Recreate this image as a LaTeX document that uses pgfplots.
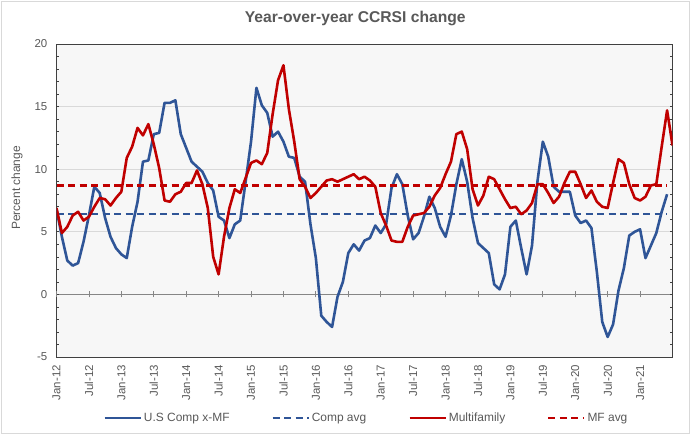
\documentclass[border=0pt]{standalone}
\usepackage{fontspec}
\setmainfont{Liberation Sans}
\usepackage{pgfplots}
\usepackage{pgfplotstable}
\pgfplotsset{compat=1.18}
\definecolor{cblue}{HTML}{2F5597}
\definecolor{cred}{HTML}{C00000}
\definecolor{plotbg}{HTML}{F7F7F7}
\definecolor{gridc}{HTML}{D9D9D9}
\definecolor{framec}{HTML}{D9D9D9}
\definecolor{textgray}{HTML}{595959}
\definecolor{zerogray}{HTML}{868686}
\definecolor{boxc}{HTML}{404040}

\pgfplotstableread{
m v
0 6.8
1 4.6
2 2.7
3 2.3
4 2.5
5 4.2
6 6.3
7 8.6
8 8.1
9 6.1
10 4.6
11 3.7
12 3.2
13 2.9
14 5.4
15 7.4
16 10.6
17 10.7
18 12.8
19 12.9
20 15.3
21 15.3
22 15.5
23 12.8
24 11.7
25 10.6
26 10.2
27 9.8
28 8.9
29 8.3
30 6.2
31 5.9
32 4.5
33 5.6
34 5.9
35 9.0
36 12.2
37 16.5
38 15.1
39 14.5
40 12.6
41 13.0
42 12.2
43 11.0
44 10.9
45 9.4
46 9.0
47 5.6
48 2.9
49 -1.7
50 -2.2
51 -2.6
52 -0.2
53 1.0
54 3.3
55 4.0
56 3.5
57 4.3
58 4.5
59 5.5
60 4.9
61 5.6
62 8.5
63 9.6
64 8.8
65 6.3
66 4.4
67 4.9
68 6.2
69 7.8
70 6.9
71 5.4
72 4.6
73 6.3
74 8.8
75 10.8
76 9.0
77 6.1
78 4.1
79 3.7
80 3.3
81 0.8
82 0.4
83 1.6
84 5.4
85 5.9
86 3.7
87 1.6
88 3.9
89 9.0
90 12.2
91 11.0
92 8.6
93 8.2
94 8.2
95 8.2
96 6.3
97 5.7
98 5.9
99 5.3
100 1.8
101 -2.2
102 -3.4
103 -2.4
104 0.3
105 2.1
106 4.7
107 5.0
108 5.2
109 2.9
110 3.9
111 4.9
112 6.6
113 8.0
}\comptbl

\pgfplotstableread{
m v
0 6.9
1 4.9
2 5.4
3 6.3
4 6.6
5 5.9
6 6.2
7 7.0
8 7.7
9 7.6
10 7.1
11 7.7
12 8.2
13 10.9
14 11.8
15 13.3
16 12.7
17 13.6
18 12.0
19 10.1
20 7.5
21 7.4
22 8.0
23 8.2
24 8.9
25 8.9
26 9.9
27 8.8
28 6.9
29 3.0
30 1.6
31 4.6
32 6.9
33 8.4
34 8.1
35 9.3
36 10.5
37 10.7
38 10.4
39 11.3
40 14.4
41 17.1
42 18.3
43 14.8
44 12.2
45 9.2
46 8.6
47 7.7
48 8.1
49 8.6
50 9.1
51 9.2
52 9.0
53 9.2
54 9.4
55 9.6
56 9.2
57 9.4
58 9.1
59 8.6
60 6.5
61 5.5
62 4.3
63 4.2
64 4.2
65 5.4
66 6.3
67 6.4
68 6.5
69 7.0
70 7.9
71 8.5
72 9.6
73 10.6
74 12.8
75 13.0
76 11.6
77 8.4
78 7.1
79 7.9
80 9.4
81 9.2
82 8.4
83 7.6
84 6.9
85 7.0
86 6.4
87 6.7
88 7.3
89 8.8
90 8.8
91 8.1
92 7.3
93 7.8
94 8.9
95 9.8
96 9.8
97 8.8
98 7.7
99 8.3
100 7.4
101 7.0
102 6.9
103 8.9
104 10.8
105 10.5
106 8.8
107 7.7
108 7.5
109 7.8
110 8.7
111 8.8
112 11.8
113 14.7
114 11.9
}\mftbl

\begin{document}
\begin{tikzpicture}
\path[use as bounding box] (0bp,0bp) rectangle (696bp,435bp);
\draw[framec, line width=0.8bp, fill=white] (1bp,2bp) rectangle (689bp,434bp);
\begin{axis}[
  at={(56.5bp,78bp)}, anchor=south west,
  width=616bp, height=313bp, scale only axis,
  xmin=0, xmax=114, ymin=-5, ymax=20,
  axis background/.style={fill=plotbg},
  axis line style={draw=boxc, line width=0.8bp},
  /pgf/number format/assume math mode=true,
  xtick={0,6,...,108},
  xticklabels={Jan-12,Jul-12,Jan-13,Jul-13,Jan-14,Jul-14,Jan-15,Jul-15,Jan-16,Jul-16,Jan-17,Jul-17,Jan-18,Jul-18,Jan-19,Jul-19,Jan-20,Jul-20,Jan-21},
  xtick style={draw=none},
  xticklabel style={rotate=90, anchor=east, inner xsep=8bp, inner ysep=0pt,
    font=\fontsize{11.5}{13}\selectfont, text=textgray},
  ytick={-5,0,...,20},
  minor y tick num=4,
  tick align=inside,
  major tick length=3bp, minor tick length=3bp,
  ytick style={draw=boxc, line width=0.6bp},
  yticklabel style={anchor=east, inner xsep=9bp, font=\fontsize{11.5}{13}\selectfont, text=textgray},
  ymajorgrids,
  major grid style={draw=gridc, line width=0.8bp},
  extra y ticks={0},
  extra y tick labels={},
  extra y tick style={grid=major, major grid style={draw=zerogray, line width=1.3bp}},
  ylabel={Percent change},
  every axis y label/.style={at={(axis description cs:-0.064,0.54)}, rotate=90, anchor=center,
    font=\fontsize{12}{14}\selectfont, text=textgray},
  title={Year-over-year CCRSI change},
  every axis title/.style={at={(axis description cs:0.485,1.08)}, anchor=center,
    font=\bfseries\fontsize{15.7}{18}\selectfont, text=textgray},
  legend columns=4,
  legend style={at={(axis description cs:0.503,-0.195)}, anchor=center,
    draw=none, fill=none, font=\fontsize{12}{14}\selectfont, text=textgray,
    /tikz/every odd column/.append style={column sep=0bp},
    /tikz/every even column/.append style={column sep=40bp},
    nodes={inner xsep=2bp}},
  legend image code/.code={\draw[#1] (0bp,0bp) -- (36bp,0bp);},
  every axis plot/.append style={line join=round},
]
\addplot[cblue, line width=2.6bp] table[x=m, y=v] {\comptbl};
\addlegendentry{U.S Comp x-MF}
\addplot[cblue, line width=2.2bp, dash pattern=on 7bp off 4.5bp] coordinates {(0,6.45) (113,6.45)};
\addlegendentry{Comp avg}
\addplot[cred, line width=2.6bp] table[x=m, y=v] {\mftbl};
\addlegendentry{Multifamily}
\addplot[cred, line width=2.2bp, dash pattern=on 7bp off 4.5bp] coordinates {(0,8.7) (113,8.7)};
\addlegendentry{MF avg}
\end{axis}
\begin{axis}[
  at={(56.5bp,78bp)}, anchor=south west,
  width=616bp, height=313bp, scale only axis,
  xmin=0, xmax=114, ymin=-5, ymax=20,
  axis x line*=middle, axis y line=none,
  x axis line style={draw=none},
  xtick={0,6,...,108}, xticklabels={}, ytick=\empty,
  tick align=center, major tick length=6bp,
  xtick style={draw=zerogray, line width=0.8bp},
]
\end{axis}
\end{tikzpicture}
\end{document}
